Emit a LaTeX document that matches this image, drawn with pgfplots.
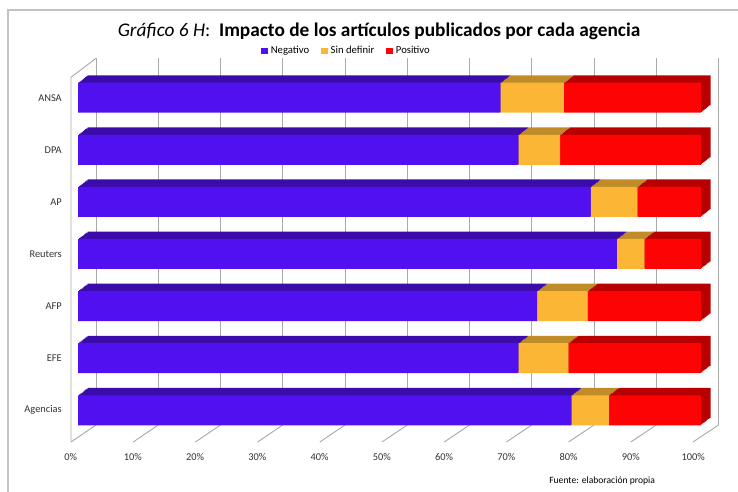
\documentclass[border=0pt]{standalone}
\usepackage{pgfplots}
\pgfplotsset{compat=1.18}
\usepackage{pgfplotstable}
\usepackage{fontspec}
\setmainfont{Carlito}
\definecolor{cneg}{RGB}{80,16,240}
\definecolor{csd}{RGB}{251,182,53}
\definecolor{cpos}{RGB}{253,3,3}
\definecolor{cnegT}{RGB}{60,12,170}
\definecolor{csdT}{RGB}{192,140,40}
\definecolor{cposT}{RGB}{185,0,0}
\definecolor{gridc}{RGB}{170,170,170}
\definecolor{framec}{RGB}{195,195,195}
\pgfplotstableread{
cat neg sd pos
Agencias 79.2 6.0 14.8
EFE 70.7 8.0 21.3
AFP 73.7 8.1 18.2
Reuters 86.5 4.4 9.1
AP 82.3 7.5 10.2
DPA 70.7 6.7 22.6
ANSA 67.8 10.2 22.0
}\data
\pgfplotsset{
  barbase/.style={
    xbar stacked, scale only axis, width=467.25pt, height=273.525pt,
    xmin=0, xmax=100, ymin=-0.5, ymax=6.5, bar width=22.5pt,
    anchor=south west, clip=false,
  },
}
\begin{document}
\begin{tikzpicture}[x=0.75pt,y=0.75pt]
\useasboundingbox (0,0) rectangle (738,492);
% frame
\draw[framec, line width=1.1pt] (8,0) -- (8,482) -- (738,482);
% background (back wall grid)
\begin{axis}[
  at={(72pt,50.25pt)}, anchor=south west, scale only axis,
  width=466.875pt, height=275.03pt,
  xmin=0, xmax=100, ymin=0, ymax=1,
  xtick={0,10,...,100},
  xticklabels={0\%,10\%,20\%,30\%,40\%,50\%,60\%,70\%,80\%,90\%,100\%},
  ytick=\empty,
  xmajorgrids, grid style={gridc, line width=0.7pt},
  axis line style={draw=none}, tick style={draw=none},
  xticklabel style={anchor=center, xshift=-19pt, yshift=-24pt, font=\fontsize{7.8}{9}\selectfont, text=black!80},
]
\end{axis}
% left wall and floor
\draw[gridc, line width=0.7pt] (71,50) -- (71,414.7) -- (96,433.7);
\foreach \k in {0,...,10} {
  \draw[gridc, line width=0.7pt] (96+62.25*\k,67) -- (71+62.2*\k,50);
}
% top/side faces (shifted copies, back to front)
\foreach \t in {1,0.875,0.75,0.625,0.5,0.375,0.25,0.125} {
\begin{axis}[barbase, at={(58.5pt+7.125pt*\t,41.74pt+5.55pt*\t)}, hide axis]
\addplot[fill=cnegT, draw=none] table[x=neg, y expr=\coordindex] {\data};
\addplot[fill=csdT, draw=none] table[x=sd, y expr=\coordindex] {\data};
\addplot[fill=cposT, draw=none] table[x=pos, y expr=\coordindex] {\data};
\end{axis}
}
% front faces
\begin{axis}[barbase, at={(58.5pt,41.74pt)},
  axis line style={draw=none}, tick style={draw=none},
  xtick=\empty, ytick={0,...,6},
  yticklabels={Agencias,EFE,AFP,Reuters,AP,DPA,ANSA},
  yticklabel style={anchor=east, inner sep=0pt, xshift=-12pt, font=\fontsize{7.8}{9}\selectfont, text=black!80},
  legend style={at={(axis description cs:0.4315,1.0566)}, anchor=center, draw=none, fill=none,
    font=\fontsize{8}{9}\selectfont, legend columns=3,
    /tikz/every even column/.append style={column sep=7pt}, inner sep=0pt},
  legend image code/.code={\fill[#1] (0pt,-2.6pt) rectangle (5.2pt,2.6pt);},
]
\addplot[fill=cneg, draw=none] table[x=neg, y expr=\coordindex] {\data};
\addplot[fill=csd, draw=none] table[x=sd, y expr=\coordindex] {\data};
\addplot[fill=cpos, draw=none] table[x=pos, y expr=\coordindex] {\data};
\legend{Negativo, Sin definir, Positivo}
\end{axis}
% title
\node at (379,461) {\fontsize{14.5}{17}\selectfont\textit{Gráfico 6 H}:\ \ \textbf{Impacto de los artículos publicados por cada agencia}};
% footer
\node[anchor=west, inner sep=0pt] at (549,11) {\fontsize{7.2}{9}\selectfont Fuente: elaboración propia};
\end{tikzpicture}
\end{document}
